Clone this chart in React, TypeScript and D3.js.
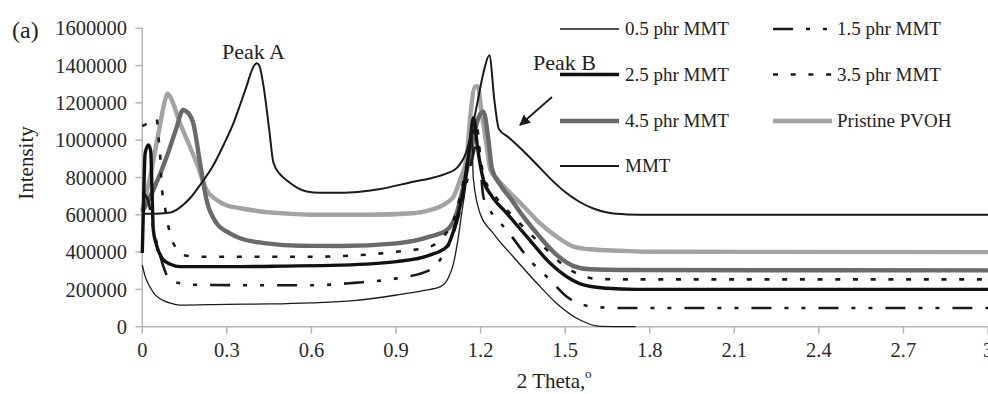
import React from "react";
import * as d3 from "d3";

type Pt = [number, number];

// XRD intensity traces, [2θ (deg), intensity]
const mmt05: Pt[] = [
  [0, 330000], [0.01, 270000], [0.027, 214000], [0.045, 172000], [0.063, 150000],
  [0.1, 126000], [0.134, 116000], [0.3, 120000], [0.45, 122000], [0.6, 128000],
  [0.75, 140000], [0.902, 170000], [1.0, 195000], [1.056, 214000], [1.085, 260000],
  [1.104, 340000], [1.12, 470000], [1.133, 608000], [1.155, 850000], [1.168, 1080000],
  [1.174, 800000], [1.198, 608000], [1.245, 501000], [1.316, 375000], [1.4, 233000],
  [1.47, 125000], [1.553, 36000], [1.624, 2000], [1.75, 0],
];

const mmt15: Pt[] = [
  [0, 720000], [0.02, 680000], [0.04, 520000], [0.06, 400000], [0.075, 322000],
  [0.098, 250000], [0.134, 233000], [0.2, 224000], [0.6, 222000], [0.75, 235000],
  [0.902, 259000], [1.02, 304000], [1.056, 358000], [1.104, 501000], [1.14, 700000],
  [1.17, 900000], [1.19, 1000000], [1.21, 697000], [1.233, 626000], [1.293, 518000],
  [1.376, 355000], [1.447, 250000], [1.506, 161000], [1.565, 116000], [1.624, 104000],
  [1.7, 100000], [3, 100000],
];

const mmt25: Pt[] = [
  [0, 395000], [0.005, 700000], [0.01, 930000], [0.022, 975000], [0.03, 940000],
  [0.035, 700000], [0.039, 520000], [0.05, 440000], [0.075, 358000], [0.1, 335000],
  [0.134, 322000], [0.3, 322000], [0.5, 325000], [0.7, 330000], [0.902, 349000],
  [1.02, 384000], [1.08, 429000], [1.115, 572000], [1.139, 733000], [1.16, 950000],
  [1.175, 1120000], [1.19, 950000], [1.21, 787000], [1.24, 700000], [1.293, 608000],
  [1.364, 483000], [1.447, 340000], [1.506, 268000], [1.565, 224000], [1.648, 206000],
  [1.75, 200000], [3, 200000],
];

const mmt35: Pt[] = [
  [0, 1075000], [0.03, 1100000], [0.051, 1117000], [0.057, 1020000], [0.063, 930000],
  [0.069, 751000], [0.08, 643000], [0.098, 501000], [0.12, 420000], [0.145, 384000],
  [0.2, 375000], [0.6, 375000], [0.75, 382000], [0.902, 402000], [1.02, 429000],
  [1.068, 483000], [1.104, 572000], [1.127, 697000], [1.155, 900000], [1.185, 1090000],
  [1.2, 900000], [1.215, 790000], [1.245, 715000], [1.328, 572000], [1.423, 429000],
  [1.494, 330000], [1.565, 270000], [1.612, 256000], [1.7, 254000], [3, 254000],
];

const mmt45: Pt[] = [
  [0, 615000], [0.039, 733000], [0.087, 912000], [0.12, 1060000], [0.145, 1162000],
  [0.16, 1150000], [0.181, 1090000], [0.205, 876000], [0.228, 679000], [0.264, 554000],
  [0.311, 501000], [0.347, 474000], [0.441, 447000], [0.56, 434000], [0.7, 433000],
  [0.902, 447000], [1.02, 483000], [1.08, 518000], [1.115, 608000], [1.133, 715000],
  [1.16, 900000], [1.195, 1130000], [1.21, 1153000], [1.228, 1001000], [1.24, 850000],
  [1.27, 760000], [1.31, 680000], [1.352, 590000], [1.411, 480000], [1.47, 385000],
  [1.53, 325000], [1.588, 308000], [1.7, 304000], [3, 302000],
];

const pvoh: Pt[] = [
  [0, 625000], [0.03, 820000], [0.06, 1060000], [0.08, 1210000], [0.089, 1250000],
  [0.1, 1230000], [0.134, 1090000], [0.165, 980000], [0.193, 876000], [0.228, 733000],
  [0.264, 679000], [0.3, 650000], [0.347, 635000], [0.42, 618000], [0.5, 608000],
  [0.6, 600000], [0.8, 600000], [0.961, 608000], [1.02, 625000], [1.056, 643000],
  [1.085, 670000], [1.104, 697000], [1.127, 787000], [1.151, 912000], [1.163, 1120000],
  [1.18, 1287000], [1.19, 1290000], [1.204, 1144000], [1.222, 965000], [1.235, 840000],
  [1.26, 790000], [1.293, 735000], [1.33, 680000], [1.376, 608000], [1.411, 554000],
  [1.47, 483000], [1.53, 429000], [1.588, 415000], [1.7, 407000], [1.8, 402000],
  [3, 400000],
];

const mmtClay: Pt[] = [
  [0, 605000], [0.05, 606000], [0.1, 612000], [0.134, 640000], [0.17, 690000],
  [0.205, 760000], [0.25, 860000], [0.29, 980000], [0.323, 1090000], [0.347, 1190000],
  [0.37, 1290000], [0.39, 1380000], [0.406, 1412000], [0.415, 1400000], [0.43, 1290000],
  [0.45, 1060000], [0.465, 880000], [0.49, 815000], [0.512, 785000], [0.55, 745000],
  [0.583, 725000], [0.63, 718000], [0.7, 718000], [0.772, 724000], [0.85, 740000],
  [0.961, 777000], [1.02, 795000], [1.08, 822000], [1.115, 850000], [1.15, 940000],
  [1.186, 1180000], [1.21, 1360000], [1.231, 1455000], [1.25, 1200000], [1.265, 1060000],
  [1.3, 1015000], [1.35, 945000], [1.4, 868000], [1.45, 790000], [1.5, 722000],
  [1.55, 670000], [1.6, 634000], [1.65, 612000], [1.72, 602000], [1.8, 600000],
  [3, 600000],
];

const yTicks = [0, 200000, 400000, 600000, 800000, 1000000, 1200000, 1400000, 1600000];
const xTickLabels = ["0", "0.3", "0.6", "0.9", "1.2", "1.5", "1.8", "2.1", "2.4", "2.7", "3"];

type Style = { stroke: string; width: number; dash?: string };

const styles: Record<string, Style> = {
  "0.5 phr MMT": { stroke: "#1a1a1a", width: 1.3 },
  "1.5 phr MMT": { stroke: "#1a1a1a", width: 2.6, dash: "20,13,4,13,4,13" },
  "2.5 phr MMT": { stroke: "#111", width: 3.4 },
  "3.5 phr MMT": { stroke: "#1a1a1a", width: 2.6, dash: "5,12.7" },
  "4.5 phr MMT": { stroke: "#6a6a6a", width: 4.4 },
  "Pristine PVOH": { stroke: "#a3a3a3", width: 4.4 },
  MMT: { stroke: "#1a1a1a", width: 2 },
};

const dataByName: Record<string, Pt[]> = {
  "0.5 phr MMT": mmt05,
  "1.5 phr MMT": mmt15,
  "2.5 phr MMT": mmt25,
  "3.5 phr MMT": mmt35,
  "4.5 phr MMT": mmt45,
  "Pristine PVOH": pvoh,
  MMT: mmtClay,
};

// painting order: grey traces underneath, black traces on top
const drawOrder = [
  "Pristine PVOH", "4.5 phr MMT", "0.5 phr MMT", "1.5 phr MMT",
  "3.5 phr MMT", "2.5 phr MMT", "MMT",
];

const W = 988;
const H = 394;
const serif = "Liberation Serif, DejaVu Serif, serif";
const txt = { fontFamily: serif };

export default function App() {
  const x = d3.scaleLinear().domain([0, 3]).range([142.3, 988]);
  const y = d3.scaleLinear().domain([0, 1600000]).range([326.7, 28.3]);

  const line = d3
    .line<Pt>()
    .x((d) => x(d[0]))
    .y((d) => y(d[1]))
    .curve(d3.curveMonotoneX);

  const legendCols = [
    { lineX: 560, textX: 625, names: ["0.5 phr MMT", "2.5 phr MMT", "4.5 phr MMT", "MMT"] },
    { lineX: 773, textX: 837, names: ["1.5 phr MMT", "3.5 phr MMT", "Pristine PVOH"] },
  ];
  const legendRows = [29, 74.5, 121, 166];

  return (
    <svg
      width={W}
      height={H}
      style={{ position: "absolute", left: 0, top: 0, background: "#fff" }}
    >
      <defs>
        <marker
          id="arrowHead"
          viewBox="0 0 10 10"
          refX="9"
          refY="5"
          markerWidth="6"
          markerHeight="6"
          orient="auto"
        >
          <path d="M0,0 L10,5 L0,10 Z" fill="#1a1a1a" />
        </marker>
      </defs>

      {/* axes */}
      <line x1={x(0)} x2={x(0)} y1={y(1600000)} y2={y(0)} stroke="#b5b5b5" strokeWidth={1.5} />
      <line x1={x(0)} x2={x(3)} y1={y(0)} y2={y(0)} stroke="#b5b5b5" strokeWidth={1.5} />

      {yTicks.map((t) => (
        <g key={`y${t}`}>
          <line x1={x(0) - 7} x2={x(0)} y1={y(t)} y2={y(t)} stroke="#b5b5b5" strokeWidth={1.5} />
          <text
            x={127}
            y={y(t)}
            dy="0.35em"
            textAnchor="end"
            fontSize={20.5}
            fill="#2a2a2a"
            style={txt}
          >
            {String(t)}
          </text>
        </g>
      ))}

      {xTickLabels.map((lab) => {
        const v = parseFloat(lab);
        return (
          <g key={`x${lab}`}>
            <line x1={x(v)} x2={x(v)} y1={y(0)} y2={y(0) + 7} stroke="#b5b5b5" strokeWidth={1.5} />
            <text x={x(v)} y={357} textAnchor="middle" fontSize={20.5} fill="#2a2a2a" style={txt}>
              {lab}
            </text>
          </g>
        );
      })}

      {/* traces */}
      {drawOrder.map((name) => {
        const s = styles[name];
        return (
          <path
            key={name}
            d={line(dataByName[name]) || ""}
            fill="none"
            stroke={s.stroke}
            strokeWidth={s.width}
            strokeDasharray={s.dash}
            strokeLinejoin="round"
          />
        );
      })}

      {/* legend */}
      {legendCols.map((col) =>
        col.names.map((name, i) => {
          const s = styles[name];
          const ly = legendRows[i];
          return (
            <g key={`lg${name}`}>
              <line
                x1={col.lineX}
                x2={col.lineX + 59}
                y1={ly}
                y2={ly}
                stroke={s.stroke}
                strokeWidth={s.width}
                strokeDasharray={s.dash}
              />
              <text x={col.textX} y={ly} dy="0.33em" fontSize={19} fill="#222" style={txt}>
                {name}
              </text>
            </g>
          );
        })
      )}

      {/* annotations */}
      <text x={222} y={59} fontSize={22} fill="#222" style={txt}>Peak A</text>
      <text x={533} y={70} fontSize={22} fill="#222" style={txt}>Peak B</text>
      <line
        x1={552}
        y1={97}
        x2={520}
        y2={125}
        stroke="#1a1a1a"
        strokeWidth={1.8}
        markerEnd="url(#arrowHead)"
      />

      <text x={12} y={38} fontSize={24} fill="#222" style={txt}>(a)</text>

      <text
        transform={`translate(33, 163) rotate(-90)`}
        textAnchor="middle"
        fontSize={21}
        fill="#222"
        style={txt}
      >
        Intensity
      </text>

      <text x={551} y={388} textAnchor="middle" fontSize={21} fill="#222" style={txt}>
        2 Theta,
      </text>
      <text x={585} y={378} fontSize={13} fill="#222" style={txt}>o</text>
    </svg>
  );
}
